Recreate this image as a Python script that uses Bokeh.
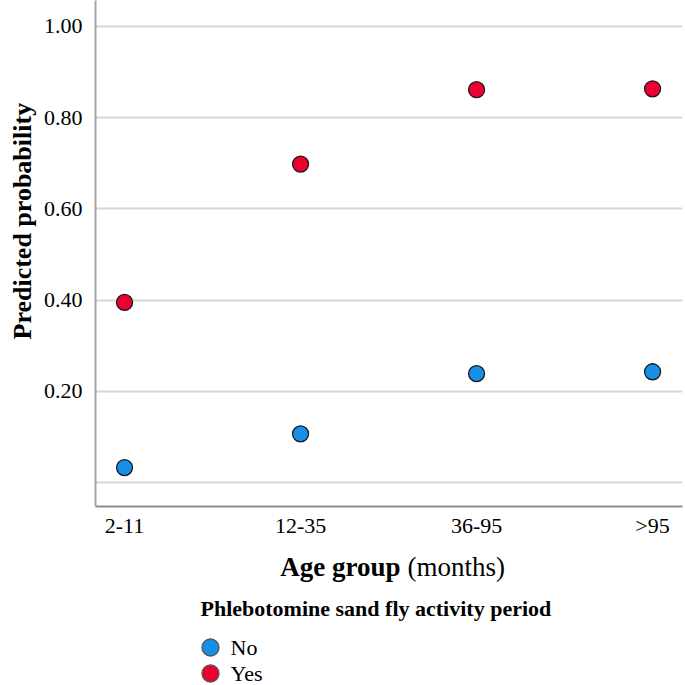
from bokeh.plotting import figure
from bokeh.layouts import column
from bokeh.models import FixedTicker, ColumnDataSource, Title, Range1d
from bokeh.core.properties import value
from bokeh.embed import file_html
from bokeh.resources import INLINE

# ---- data ----
age_groups = ["2-11", "12-35", "36-95", ">95"]
prob_no = [0.033, 0.107, 0.239, 0.243]
prob_yes = [0.395, 0.698, 0.861, 0.863]
y_ticks = [0.20, 0.40, 0.60, 0.80, 1.00]
y_grid = [0.0, 0.20, 0.40, 0.60, 0.80, 1.00]
series_labels = ["No", "Yes"]
legend_title = "Phlebotomine sand fly activity period"

FONT = "Liberation Serif"
BLUE = "#178fe6"
RED = "#ec0030"
series_colors = [BLUE, RED]

xpos = list(range(len(age_groups)))

p = figure(width=685, height=540, output_backend="svg", toolbar_location=None,
           x_range=(-0.165, 3.17), y_range=(-0.0522, 1.0565),
           min_border_left=95, min_border_right=3, min_border_top=0,
           min_border_bottom=30)
p.outline_line_color = None

# axes
p.xaxis.ticker = FixedTicker(ticks=xpos)
p.xaxis.major_label_overrides = {i: g for i, g in enumerate(age_groups)}
p.yaxis.ticker = FixedTicker(ticks=y_ticks)
p.yaxis.major_label_overrides = {t: f"{t:.2f}" for t in y_ticks}
for ax in (p.xaxis[0], p.yaxis[0]):
    ax.major_tick_line_color = None
    ax.minor_tick_line_color = None
    ax.major_tick_out = 0
    ax.major_label_text_font = FONT
    ax.major_label_text_font_size = "22px"
    ax.major_label_text_color = "black"
p.xaxis.axis_line_color = "#8c8c8c"
p.xaxis.axis_line_width = 2
p.yaxis.axis_line_color = "#a6a6a6"
p.yaxis.axis_line_width = 2
p.xaxis.major_label_standoff = 6
p.yaxis.major_label_standoff = 13

p.xgrid.grid_line_color = None
p.ygrid.ticker = FixedTicker(ticks=y_grid)
p.ygrid.grid_line_color = "#d6d6d6"
p.ygrid.grid_line_width = 2

src_no = ColumnDataSource(dict(x=xpos, y=prob_no))
src_yes = ColumnDataSource(dict(x=xpos, y=prob_yes))
common = dict(size=16, line_color="#1a1a1a", line_width=1.3)
p.scatter("x", "y", source=src_no, fill_color=BLUE, **common)
p.scatter("x", "y", source=src_yes, fill_color=RED, **common)

# y axis title
p.add_layout(Title(text="Predicted probability", align="left", offset=167,
                   standoff=8, text_font=FONT, text_font_size="26px",
                   text_font_style="bold", text_color="black"), "left")

# ---- lower panel: x axis title and legend (page-pixel coordinates) ----
p2 = figure(width=685, height=145, output_backend="svg", toolbar_location=None,
            x_range=Range1d(95, 682), y_range=Range1d(685, 540),
            min_border_left=95, min_border_right=3, min_border_top=0,
            min_border_bottom=0)
p2.outline_line_color = None
p2.axis.visible = False
p2.grid.grid_line_color = None

p2.text(x=[400], y=[566], text=["Age group"], text_align="right",
        text_baseline="middle", text_font=value(FONT), text_font_size="27px",
        text_font_style="bold", text_color="black")
p2.text(x=[407], y=[566], text=["(months)"], text_align="left",
        text_baseline="middle", text_font=value(FONT), text_font_size="27px",
        text_font_style="normal", text_color="black")
p2.text(x=[200], y=[608], text=[legend_title],
        text_align="left", text_baseline="middle", text_font=value(FONT),
        text_font_size="22px", text_font_style="bold", text_color="black")

key_y = [647, 673]
p2.scatter(x=[210, 210], y=key_y, size=17, fill_color=series_colors,
           line_color="#555555", line_width=1.3)
p2.text(x=[230, 230], y=key_y, text=series_labels, text_align="left",
        text_baseline="middle", text_font=value(FONT), text_font_size="22px",
        text_color="black")

layout = column(p, p2, spacing=0)
open("out.html", "w").write(file_html(layout, INLINE))
